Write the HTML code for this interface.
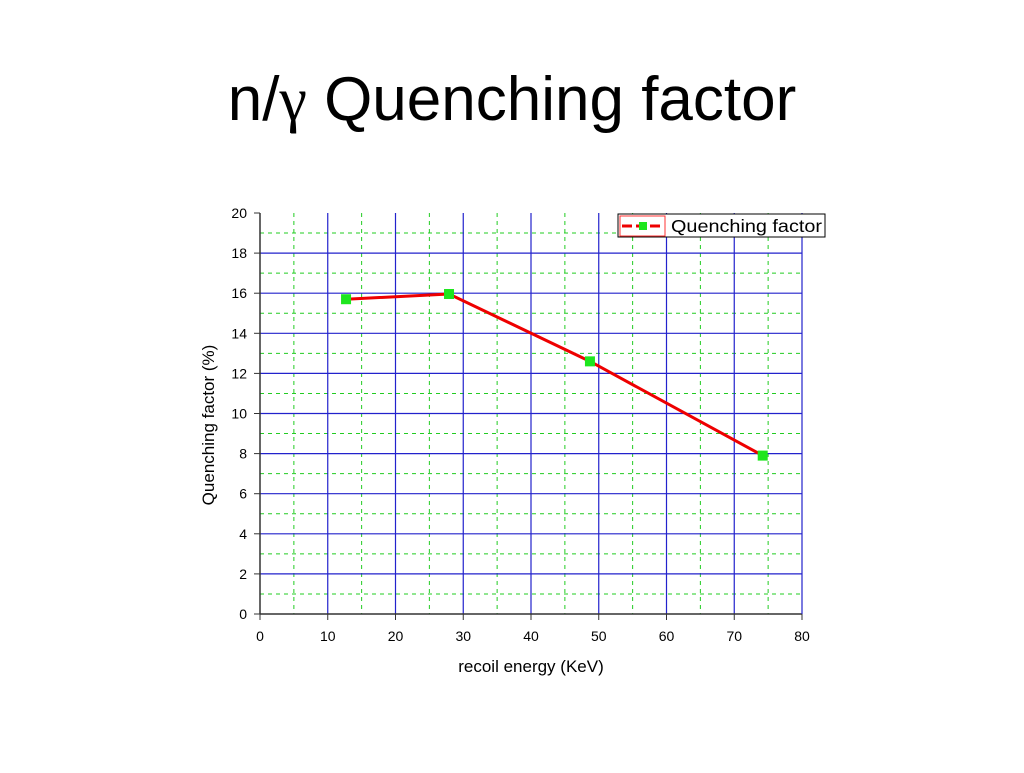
<!DOCTYPE html>
<html><head><meta charset="utf-8"><style>
body{margin:0;background:#fff;width:1024px;height:768px;overflow:hidden}
svg text{font-family:"Liberation Sans",Arial,sans-serif}
</style></head><body>
<svg width="1024" height="768">
<text x="512" y="120" text-anchor="middle" font-size="62" fill="#000">n/<tspan font-family="Liberation Serif">γ</tspan> Quenching factor</text>
<g id="grid"></g>
<g id="axes"></g>
<g id="series"></g>
<text x="531" y="672" text-anchor="middle" font-size="17">recoil energy (KeV)</text>
<text transform="translate(214,425) rotate(-90)" text-anchor="middle" font-size="17">Quenching factor (%)</text>
<g>
<rect x="618" y="214" width="207" height="23" fill="#fff" stroke="#000" stroke-width="1"/>
<rect x="620" y="216" width="45" height="20" fill="none" stroke="#f33" stroke-width="1"/>
<line x1="622" y1="226" x2="664" y2="226" stroke="#e00" stroke-width="3" stroke-dasharray="10,4"/>
<rect x="639" y="222" width="8" height="8" fill="#1ee61e"/>
<text x="671" y="232" font-size="17.5" textLength="151" lengthAdjust="spacingAndGlyphs">Quenching factor</text>
</g>
</svg>
<script>
const xVals=[12.7,27.9,48.7,74.2];
const yVals=[15.7,15.96,12.6,7.9];
const xTicks=[0,10,20,30,40,50,60,70,80];
const yTicks=[0,2,4,6,8,10,12,14,16,18,20];
const X0=260,X1=802,Y0=614,Y1=213;
const sx=v=>X0+(v-0)/(80-0)*(X1-X0);
const sy=v=>Y0-(v-0)/(20-0)*(Y0-Y1);
const NS="http://www.w3.org/2000/svg";
function mk(p,t,a){const e=document.createElementNS(NS,t);for(const k in a)e.setAttribute(k,a[k]);p.appendChild(e);return e;}
const g=document.getElementById('grid'),ax=document.getElementById('axes'),s=document.getElementById('series');
for(let v=5;v<80;v+=10){const l=mk(g,'line',{x1:sx(v),x2:sx(v),y1:Y1,y2:Y0,stroke:'#2c2',"stroke-width":1,"stroke-dasharray":"4,4"});

}
for(let v=1;v<20;v+=2){const l=mk(g,'line',{x1:X0,x2:X1,y1:sy(v),y2:sy(v),stroke:'#2c2',"stroke-width":1,"stroke-dasharray":"4,4"});

}
xTicks.forEach(v=>{if(v>0&&v<80){const l=mk(g,'line',{x1:sx(v),x2:sx(v),y1:Y1,y2:Y0,stroke:'#22c',"stroke-width":1.2});

}
const t=mk(ax,'text',{x:sx(v),y:Y0+27,"text-anchor":"middle","font-size":14});t.textContent=v;


mk(ax,'line',{x1:sx(v),x2:sx(v),y1:Y0,y2:Y0+6,stroke:'#333'});});
yTicks.forEach(v=>{if(v>0&&v<20){const l=mk(g,'line',{x1:X0,x2:X1,y1:sy(v),y2:sy(v),stroke:'#22c',"stroke-width":1.2});

}
const t=mk(ax,'text',{x:X0-13,y:sy(v)+5,"text-anchor":"end","font-size":14});t.textContent=v;


mk(ax,'line',{x1:X0-6,x2:X0,y1:sy(v),y2:sy(v),stroke:'#333'});});
mk(ax,'line',{x1:X0,x2:X0,y1:Y1,y2:Y0,stroke:'#333',"stroke-width":1.5});
mk(ax,'line',{x1:X0,x2:X1,y1:Y0,y2:Y0,stroke:'#333',"stroke-width":1.5});
mk(ax,'line',{x1:X1,x2:X1,y1:Y1,y2:Y0,stroke:'#22c',"stroke-width":1.2});
const pl=mk(s,'polyline',{points:xVals.map((x,i)=>sx(x)+','+sy(yVals[i])).join(' '),fill:'none',stroke:'#e00',"stroke-width":3});


xVals.forEach((x,i)=>{const r=mk(s,'rect',{x:sx(x)-5,y:sy(yVals[i])-5,width:10,height:10,fill:'#1ee61e'});

});
</script>
</body></html>
